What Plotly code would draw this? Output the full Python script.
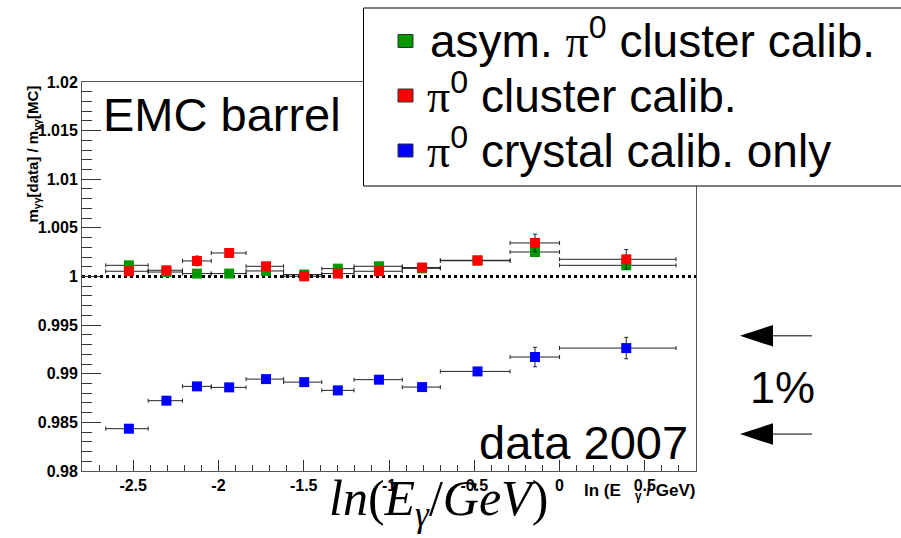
import plotly.graph_objects as go

# ---------------- data ----------------
x_center = [-2.525, -2.305, -2.126, -1.937, -1.721, -1.497, -1.300, -1.059, -0.806, -0.481, -0.144, 0.391]
x_low = [-2.661, -2.412, -2.211, -2.042, -1.838, -1.618, -1.394, -1.205, -0.922, -0.699, -0.290, 0.000]
x_high = [-2.412, -2.211, -2.042, -1.838, -1.618, -1.394, -1.205, -0.922, -0.699, -0.290, 0.000, 0.683]

y_asym = [1.00115, 1.00046, 1.00030, 1.00030, 1.00057, 1.00020, 1.00081, 1.00105, 1.00084, 1.00162, 1.00252, 1.00115]
e_asym = [0.0001, 0.0001, 0.0001, 0.0001, 0.0001, 0.0001, 0.0001, 0.0001, 0.0001, 0.0001, 0.0004, 0.0004]

y_cluster = [1.00054, 1.00064, 1.00160, 1.00242, 1.00105, 1.00002, 1.00030, 1.00054, 1.00092, 1.00167, 1.00345, 1.00177]
e_cluster = [0.0001, 0.0001, 0.0005, 0.0003, 0.0001, 0.0001, 0.0003, 0.0001, 0.0002, 0.0001, 0.0009, 0.0010]

y_crystal = [0.98435, 0.98723, 0.98870, 0.98860, 0.98945, 0.98914, 0.98829, 0.98939, 0.98863, 0.99024, 0.99172, 0.99264]
e_crystal = [0.0001, 0.0002, 0.0002, 0.0002, 0.0001, 0.0001, 0.0001, 0.0001, 0.0002, 0.0001, 0.0010, 0.0011]

PI = "<span style=\"font-family:'Liberation Serif'\">π</span>"
series_names = ["asym. " + PI + "<sup>0</sup> cluster calib.",
                PI + "<sup>0</sup> cluster calib.",
                PI + "<sup>0</sup> crystal calib. only"]
series_colors = ["#009a00", "#ff0000", "#0000ff"]

y_tickvals = [0.98, 0.985, 0.99, 0.995, 1.0, 1.005, 1.01, 1.015, 1.02]
y_ticktext = ["0.98", "0.985", "0.99", "0.995", "1", "1.005", "1.01", "1.015", "1.02"]
x_tickvals = [-2.5, -2.0, -1.5, -1.0, -0.5, 0.0, 0.5]
x_ticktext = ["-2.5", "-2", "-1.5", "-1", "-0.5", "0", "0.5"]

arrow_levels = [0.9939, 0.9838]

# ---------------- layout geometry ----------------
W, H = 901, 538
L, R, T, B = 82, 696, 82, 471


def PX(px):
    return (px - L) / (R - L)


def PY(py):
    return (B - py) / (B - T)


fig = go.Figure()

err_minus = [c - lo for c, lo in zip(x_center, x_low)]
err_plus = [hi - c for c, hi in zip(x_center, x_high)]

for yv, ev, col in [(y_asym, e_asym, series_colors[0]),
                    (y_cluster, e_cluster, series_colors[1]),
                    (y_crystal, e_crystal, series_colors[2])]:
    fig.add_trace(go.Scatter(
        x=x_center, y=yv, mode="markers",
        marker=dict(symbol="square", size=10, color=col, line=dict(width=0)),
        error_x=dict(type="data", symmetric=False, array=err_plus, arrayminus=err_minus,
                     color="#222222", thickness=1, width=2),
        error_y=dict(type="data", array=ev, color="#222222", thickness=1, width=2),
        showlegend=False,
    ))

# dotted reference line at 1
fig.add_shape(type="line", xref="paper", yref="y", x0=0, x1=1, y0=1.0, y1=1.0,
              line=dict(color="black", width=3, dash="dot"), layer="below")

shapes = []
# legend box
shapes.append(dict(type="rect", xref="paper", yref="paper",
                   x0=PX(363.5), x1=PX(910), y0=PY(8), y1=PY(186),
                   line=dict(color="black", width=1), fillcolor="white", layer="above"))
leg_rows = [41, 95.5, 150.5]
for yrow, col in zip(leg_rows, series_colors):
    shapes.append(dict(type="rect", xref="paper", yref="paper",
                       x0=PX(398), x1=PX(413), y0=PY(yrow + 6.5), y1=PY(yrow - 6.5),
                       line=dict(color="#333333", width=1), fillcolor=col, layer="above"))
# arrows
for lev in arrow_levels:
    dy = 10.8 / ((B - T) / 0.04)
    shapes.append(dict(type="path", xref="paper", yref="y",
                       path=f"M {PX(740)},{lev} L {PX(773)},{lev + dy} L {PX(773)},{lev - dy} Z",
                       fillcolor="black", line=dict(color="black", width=0), layer="above"))
    shapes.append(dict(type="line", xref="paper", yref="y",
                       x0=PX(770), x1=PX(812), y0=lev, y1=lev,
                       line=dict(color="black", width=1), layer="above"))
for s in shapes:
    fig.add_shape(**s)

ann = []
ann.append(dict(text="EMC barrel", x=PX(101), y=PY(115), xanchor="left", yanchor="middle",
                font=dict(family="Liberation Sans", size=47, color="black")))
ann.append(dict(text="data 2007", x=PX(690), y=PY(442), xanchor="right", yanchor="middle",
                font=dict(family="Liberation Sans", size=47, color="black")))
for yrow, name, xl in zip(leg_rows, series_names, [428, 425, 425]):
    ann.append(dict(text=name, x=PX(xl), y=PY(yrow - 3), xanchor="left", yanchor="middle",
                    font=dict(family="Liberation Sans", size=46, color="black")))
ann.append(dict(text="1%", x=PX(782), y=PY(387), xanchor="center", yanchor="middle",
                font=dict(family="Liberation Sans", size=45, color="black")))
ann.append(dict(text="<i>ln</i>(<i>E</i><sub><i>γ</i></sub>/<i>GeV</i>)", x=PX(438), y=PY(502),
                xanchor="center", yanchor="middle",
                font=dict(family="Liberation Serif", size=50, color="black")))
ann.append(dict(text="<b>ln (E&nbsp;&nbsp;&nbsp;<sub>γ</sub> / GeV)</b>", x=PX(697), y=PY(492),
                xanchor="right", yanchor="middle",
                font=dict(family="Liberation Sans", size=17, color="black")))
ann.append(dict(text="<b>m<sub>γγ</sub>[data] / m<sub>γγ</sub>[MC]</b>", x=PX(33), y=PY(84),
                xanchor="center", yanchor="top", textangle=-90,
                font=dict(family="Liberation Sans", size=15, color="black")))
for a in ann:
    fig.add_annotation(showarrow=False, xref="paper", yref="paper", **a)

axis_common = dict(showline=True, mirror=True, linecolor="#555555", linewidth=1,
                   showgrid=False, zeroline=False, ticks="inside", tickcolor="#333333",
                   tickfont=dict(family="Liberation Sans", size=16, color="black", weight="bold"))

fig.update_xaxes(range=[-2.8, 0.8], tickvals=x_tickvals, ticktext=x_ticktext, ticklen=11,
                 minor=dict(dtick=0.1, tick0=0, ticks="inside", ticklen=6, tickcolor="#333333"),
                 **axis_common)
fig.update_yaxes(range=[0.98, 1.02], tickvals=y_tickvals, ticktext=y_ticktext, ticklen=19,
                 minor=dict(dtick=0.001, tick0=0.98, ticks="inside", ticklen=10, tickcolor="#333333"),
                 **axis_common)

fig.update_layout(width=W, height=H, margin=dict(l=L, r=W - R, t=T, b=H - B),
                  plot_bgcolor="white", paper_bgcolor="white", showlegend=False)

fig.write_html("out.html")
